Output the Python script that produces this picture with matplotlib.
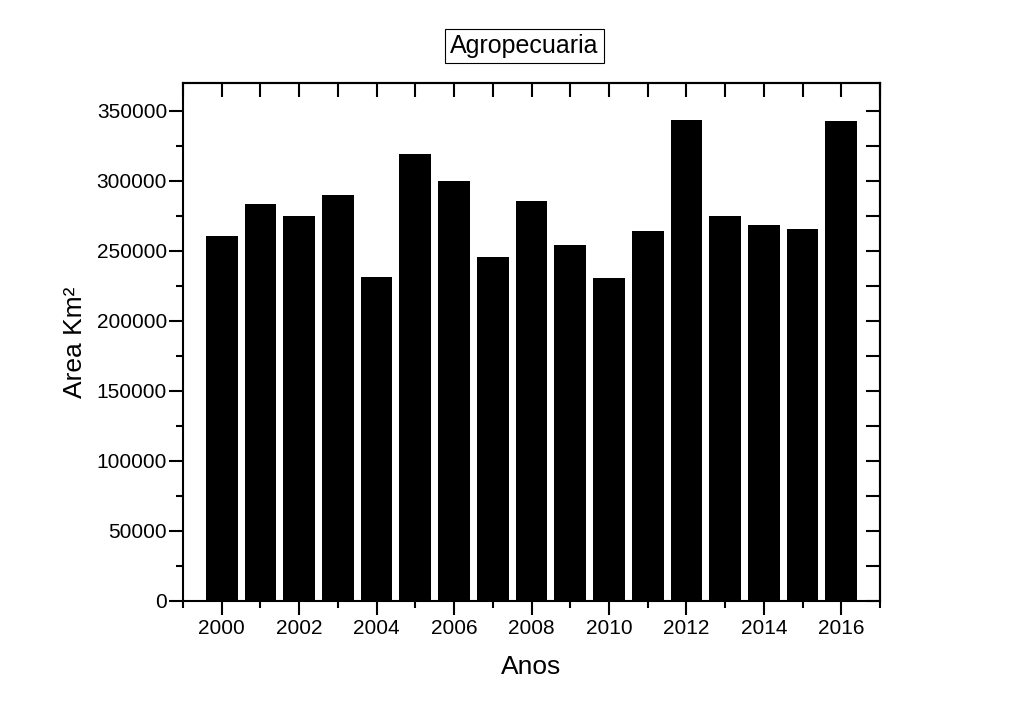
import matplotlib
matplotlib.use("Agg")
import matplotlib.pyplot as plt
from matplotlib.ticker import MultipleLocator

years = [2000, 2001, 2002, 2003, 2004, 2005, 2006, 2007, 2008,
         2009, 2010, 2011, 2012, 2013, 2014, 2015, 2016]
area = [260800, 283400, 274800, 289900, 231200, 319200, 299900, 245500, 285600,
        254000, 231000, 264100, 343300, 275200, 268400, 265500, 342800]

plt.rcParams['font.family'] = ['Liberation Sans', 'DejaVu Sans']

fig = plt.figure(figsize=(10.23, 7.2), dpi=100)
ax = fig.add_axes([183/1023, 1-601/720, (880-183)/1023, (601-83)/720])

ax.bar(years, area, width=0.82, color='black', edgecolor='black', linewidth=0)

ax.set_xlim(1999, 2017)
ax.set_ylim(0, 370000)

ax.xaxis.set_major_locator(MultipleLocator(2))
ax.xaxis.set_minor_locator(MultipleLocator(1))
ax.yaxis.set_major_locator(MultipleLocator(50000))
ax.yaxis.set_minor_locator(MultipleLocator(25000))

ax.tick_params(axis='both', which='major', direction='out', length=10, width=1.5,
               labelsize=15, pad=4)
ax.tick_params(axis='both', which='minor', direction='out', length=5, width=1.5)
ax.tick_params(axis='x', which='major', pad=3)
ax.tick_params(axis='y', which='major', pad=1.5)

# top and right inward ticks
axt = ax.secondary_xaxis('top')
axt.xaxis.set_major_locator(MultipleLocator(1))
axt.tick_params(direction='in', length=10, width=1.5, labeltop=False)
axr = ax.secondary_yaxis('right')
axr.yaxis.set_major_locator(MultipleLocator(25000))
axr.tick_params(direction='in', length=10, width=1.5, labelright=False)
for a in (axt, axr):
    for s in a.spines.values():
        s.set_linewidth(1.5)

for s in ax.spines.values():
    s.set_linewidth(1.5)

ax.set_xlabel('Anos', fontsize=19, labelpad=12)
ax.set_ylabel('Area Km²', fontsize=19, labelpad=7)

fig.text(524.5/1023, 1-45.5/720, 'Agropecuaria', fontsize=18, ha='center', va='center',
         bbox=dict(boxstyle='square,pad=0.2', facecolor='white', edgecolor='black', linewidth=0.8))

fig.savefig('out.png', dpi=100)
